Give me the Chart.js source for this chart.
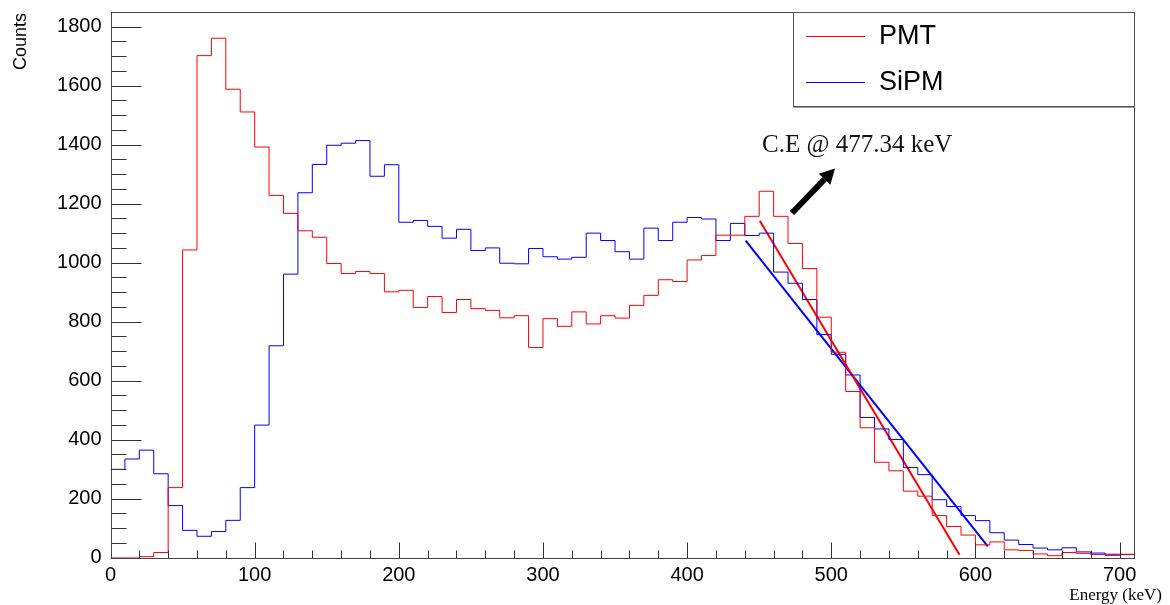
<!DOCTYPE html>
<html>
<head>
<meta charset="utf-8">
<title>Energy spectrum: PMT vs SiPM</title>
<script src="https://cdn.jsdelivr.net/npm/chart.js@4.4.1/dist/chart.umd.min.js"></script>
<style>
    html, body { margin: 0; padding: 0; background: #fff; }
    #wrap { width: 1170px; height: 605px; position: relative; }
</style>
</head>
<body>
<div id="wrap"><canvas id="spectrum"></canvas></div>
<script>
// Histogram binning (keV).
const BIN_START = 0;
const BIN_WIDTH = 10;
const X_MAX = 710;
const Y_MAX = 1850;

// Labelled ticks.
const xTickValues = [0, 100, 200, 300, 400, 500, 600, 700];
const yTickValues = [0, 200, 400, 600, 800, 1000, 1200, 1400, 1600, 1800];

// Counts per 10 keV bin, PMT readout.
const pmtCounts = [
    0, 0, 3, 17, 237, 1043, 1702, 1761, 1588, 1511,
    1392, 1228, 1167, 1108, 1086, 997, 963, 970, 963, 901,
    906, 848, 885, 831, 875, 844, 838, 813, 820, 712,
    810, 784, 833, 792, 820, 812, 855, 889, 942, 936,
    1009, 1024, 1093, 1093, 1157, 1242, 1157, 1065, 980, 815,
    696, 563, 440, 323, 294, 225, 208, 142, 105, 76,
    43, 53, 26, 24, 12, 6, 17, 14, 10, 7,
    11,
];

// Counts per 10 keV bin, SiPM readout.
const sipmCounts = [
    299, 334, 364, 284, 176, 92, 72, 88, 126, 237,
    449, 718, 961, 1237, 1333, 1398, 1405, 1414, 1293, 1332,
    1137, 1143, 1123, 1083, 1113, 1041, 1050, 998, 996, 1048,
    1020, 1012, 1018, 1100, 1075, 1037, 1012, 1117, 1075, 1137,
    1153, 1148, 1075, 1133, 1092, 1100, 968, 930, 875, 756,
    689, 619, 475, 436, 400, 305, 281, 196, 173, 142,
    125, 84, 59, 44, 32, 26, 33, 19, 15, 11,
    10,
];

// Linear fits of the Compton edges: [start, end] as {x, y}.
const pmtEdgeFit = [{ x: 450.4, y: 1142 }, { x: 588.9, y: 9 }];
const sipmEdgeFit = [{ x: 440.6, y: 1075 }, { x: 608.6, y: 38 }];

const ANNOTATION_TEXT = "C.E @ 477.34 keV";

const SANS = '"Liberation Sans", Arial, sans-serif';
const SERIF = '"Liberation Serif", "Times New Roman", serif';

// Turn bin contents into step points (left edge of each bin + closing edge).
function to_step_points(counts) {
    let pts = counts.map((v, i) => ({ x: BIN_START + i * BIN_WIDTH, y: v }));
    pts.push({ x: BIN_START + counts.length * BIN_WIDTH, y: counts[counts.length - 1] });
    return pts;
}

// Frame, inner ticks, legend box, titles and the edge annotation.
const rootStylePlugin = {
    id: 'rootStyle',
    afterDatasetsDraw(chart) {
        const ctx = chart.ctx;
        const area = chart.chartArea;
        const xs = chart.scales.x;
        const ys = chart.scales.y;
        const L = Math.round(area.left) + 0.5;
        const R = Math.round(area.right) + 0.5;
        const T = Math.round(area.top) + 0.5;
        const B = Math.round(area.bottom) + 0.5;

        ctx.save();

        // ticks on the y axis: major every 200, minor every 50
        ctx.strokeStyle = '#333';
        ctx.lineWidth = 1;
        ctx.beginPath();
        for (let v = 0; v <= Y_MAX; v += 50) {
            const y = Math.round(ys.getPixelForValue(v)) + 0.5;
            const len = v % 200 === 0 ? 30 : 15;
            ctx.moveTo(L, y);
            ctx.lineTo(L + len, y);
        }
        // ticks on the x axis: major every 100, minor every 20
        for (let v = 0; v <= X_MAX; v += 20) {
            const x = Math.round(xs.getPixelForValue(v)) + 0.5;
            const len = v % 100 === 0 ? 16 : 8;
            ctx.moveTo(x, B);
            ctx.lineTo(x, B - len);
        }
        ctx.stroke();

        // frame
        ctx.strokeStyle = '#444';
        ctx.strokeRect(L, T, R - L, B - T);

        // legend box in the top right corner
        const lx = 793.5, ly = T, lw = R - 793.5, lh = 94;
        ctx.fillStyle = '#fff';
        ctx.fillRect(lx, ly, lw, lh);
        ctx.strokeStyle = '#555';
        ctx.strokeRect(lx, ly, lw, lh);
        ctx.strokeStyle = '#999';
        ctx.beginPath();
        ctx.moveTo(lx, ly + lh + 1);
        ctx.lineTo(lx + lw, ly + lh + 1);
        ctx.stroke();

        const entries = chart.data.datasets.filter(d => d.inLegend);
        entries.forEach((d, i) => {
            const y = 35.5 + i * 46.5;
            ctx.strokeStyle = d.borderColor;
            ctx.lineWidth = 1;
            ctx.beginPath();
            ctx.moveTo(806, Math.round(y) + 0.5);
            ctx.lineTo(865, Math.round(y) + 0.5);
            ctx.stroke();
            ctx.fillStyle = '#000';
            ctx.font = `27px ${SANS}`;
            ctx.textAlign = 'left';
            ctx.textBaseline = 'middle';
            ctx.fillText(d.label, 879, y + 1);
        });

        // Compton edge label and arrow
        ctx.fillStyle = '#111';
        ctx.font = `25px ${SERIF}`;
        ctx.textAlign = 'left';
        ctx.textBaseline = 'alphabetic';
        ctx.fillText(ANNOTATION_TEXT, 762, 152);

        const ax0 = 792, ay0 = 213, ax1 = 835, ay1 = 168.5;
        const ang = Math.atan2(ay1 - ay0, ax1 - ax0);
        const head = 15, half = 8;
        const bx = ax1 - head * Math.cos(ang), by = ay1 - head * Math.sin(ang);
        ctx.strokeStyle = '#000';
        ctx.lineWidth = 6;
        ctx.beginPath();
        ctx.moveTo(ax0, ay0);
        ctx.lineTo(bx, by);
        ctx.stroke();
        ctx.fillStyle = '#000';
        ctx.beginPath();
        ctx.moveTo(ax1, ay1);
        ctx.lineTo(bx + half * Math.sin(ang), by - half * Math.cos(ang));
        ctx.lineTo(bx - half * Math.sin(ang), by + half * Math.cos(ang));
        ctx.closePath();
        ctx.fill();

        // axis titles, ROOT-style at the far ends
        ctx.fillStyle = '#000';
        ctx.font = `17px ${SERIF}`;
        ctx.textAlign = 'right';
        ctx.textBaseline = 'alphabetic';
        ctx.fillText('Energy (keV)', 1162, 600);

        ctx.translate(25.5, 13);
        ctx.rotate(-Math.PI / 2);
        ctx.font = `18px ${SANS}`;
        ctx.textAlign = 'right';
        ctx.fillText('Counts', 0, 0);

        ctx.restore();
    }
};

new Chart(document.getElementById('spectrum'), {
    type: 'line',
    data: {
        datasets: [
            {
                label: 'PMT',
                data: to_step_points(pmtCounts),
                borderColor: '#ff0000',
                borderWidth: 1,
                stepped: 'before',
                pointRadius: 0,
                inLegend: true,
            },
            {
                label: 'SiPM',
                data: to_step_points(sipmCounts),
                borderColor: '#0000ff',
                borderWidth: 1,
                stepped: 'before',
                pointRadius: 0,
                inLegend: true,
            },
            {
                label: 'PMT fit',
                data: pmtEdgeFit,
                borderColor: '#ff0000',
                borderWidth: 2,
                pointRadius: 0,
            },
            {
                label: 'SiPM fit',
                data: sipmEdgeFit,
                borderColor: '#0000ff',
                borderWidth: 2,
                pointRadius: 0,
            },
        ],
    },
    options: {
        responsive: true,
        maintainAspectRatio: false,
        animation: false,
        layout: {
            padding: { top: 12, right: 36, left: 0, bottom: 0 },
        },
        plugins: {
            legend: { display: false },
            tooltip: { enabled: false },
        },
        scales: {
            x: {
                type: 'linear',
                min: 0,
                max: X_MAX,
                grid: { display: false, drawTicks: false },
                border: { display: false },
                afterBuildTicks: s => { s.ticks = xTickValues.map(v => ({ value: v })); },
                afterFit: s => {
                    s.height = 47.5;
                    s.paddingLeft = 0;
                    s.paddingRight = 0;
                },
                ticks: {
                    autoSkip: false,
                    padding: 6,
                    color: '#000',
                    maxRotation: 0,
                    callback: v => String(v),
                    font: { family: SANS, size: 20 },
                },
            },
            y: {
                min: 0,
                max: Y_MAX,
                grid: { display: false, drawTicks: false },
                border: { display: false },
                afterBuildTicks: s => { s.ticks = yTickValues.map(v => ({ value: v })); },
                afterFit: s => {
                    s.width = 110.5;
                    s.paddingTop = 0;
                    s.paddingBottom = 0;
                },
                ticks: {
                    autoSkip: false,
                    padding: 9,
                    color: '#000',
                    callback: v => String(v),
                    font: { family: SANS, size: 20 },
                },
            },
        },
    },
    plugins: [rootStylePlugin],
});
</script>
</body>
</html>
